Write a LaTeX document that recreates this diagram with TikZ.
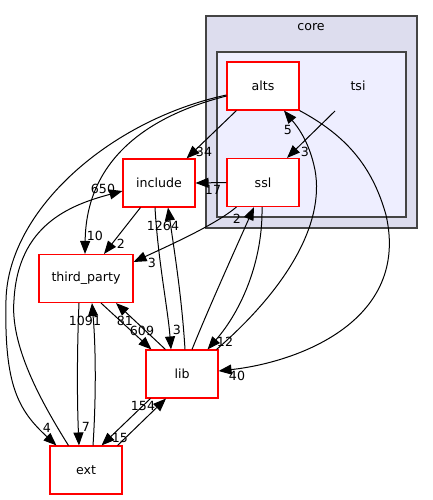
\documentclass[tikz,border=0pt]{standalone}
\usepackage{fontspec}
\setmainfont{DejaVu Sans}
\usetikzlibrary{arrows.meta,calc}
\definecolor{corefill}{HTML}{DDDDEE}
\definecolor{tsifill}{HTML}{EEEEFF}
\definecolor{clusterline}{HTML}{444444}
\definecolor{boxred}{HTML}{FF0000}
\tikzset{
  dirbox/.style={draw=boxred, fill=white, line width=1.1pt, minimum width=72pt, minimum height=48pt, inner sep=0pt, font=\fontsize{12.6}{14}\selectfont},
  plainlabel/.style={inner sep=0pt, font=\fontsize{12.6}{14}\selectfont},
  elabel/.style={inner sep=0pt, font=\fontsize{12.6}{14}\selectfont},
  dep/.style={draw=black, line width=1pt, -{Triangle[length=13pt,width=10pt]}},
  cluster/.style={draw=clusterline, line width=1.4pt}
}
\begin{document}
\begin{tikzpicture}[x=1pt,y=-1pt]
\useasboundingbox (0,0) rectangle (433,500);
% clusters
\path[cluster, fill=corefill] (206,16) rectangle (417,228);
\path[cluster, fill=tsifill] (217,52) rectangle (406,217);
\node[plainlabel] (corelabel) at (311,27) {core};
\node[plainlabel] (tsi) at (358,86) {tsi};
% nodes
\node[dirbox] (alts) at (263,86) {alts};
\node[dirbox] (ssl) at (263,182.5) {ssl};
\node[dirbox] (incl) at (159,183) {include};
\node[dirbox, minimum width=94pt] (third) at (86,278.5) {third\_party};
\node[dirbox] (lib) at (182,374) {lib};
\node[dirbox] (ext) at (86,470) {ext};
% edges
\draw[dep] ($(tsi)+(-23,25)$) -- ($(ssl.north)+(24,0)$);
\node[elabel] (l1) at (305,152) {3};
\draw[dep] ($(alts.south west)+(10,0)$) -- ($(incl.north east)+(-9,0)$);
\node[elabel] (l2) at (204,152) {34};
\draw[dep] (ssl.west) -- (incl.east);
\node[elabel] (l3) at (213,190) {17};
\draw[dep] ($(alts.west)+(0,10)$) .. controls (140,118) and (86,165) .. ($(third.north)+(-1,0)$);
\node[elabel] (l4) at (95,236) {10};
\draw[dep] ($(alts.west)+(0,9)$) .. controls (110,120) and (8,210) .. (6,300) .. controls (4,385) and (18,410) .. ($(ext.north west)+(7,0)$);
\node[elabel] (l5) at (47,428) {4};
\draw[dep] ($(ext.north west)+(19,0)$) .. controls (40,400) and (10,345) .. (14,300) .. controls (18,225) and (70,205) .. ($(incl.west)+(0,8)$);
\node[elabel] (l6) at (103,189) {650};
\draw[dep] (alts.south east) .. controls (345,135) and (372,165) .. (386,215) .. controls (410,320) and (300,362) .. ($(lib.east)+(0,-3)$);
\node[elabel] (l7) at (237,376) {40};
\draw[dep] ($(ssl.south west)+(10,0)$) .. controls (215,225) and (170,245) .. ($(third.east)+(0,-16.5)$);
\node[elabel] (l8) at (152,263) {3};
\draw[dep] ($(ssl.south)+(-1,0)$) .. controls (263,260) and (242,310) .. ($(lib.north east)+(-11,0)$);
\node[elabel] (l9) at (225,342) {12};
\draw[dep] ($(lib.north)+(10,0)$) .. controls (210,305) and (235,250) .. ($(ssl.south)+(-9,0)$);
\node[elabel] (l10) at (237,219) {2};
\draw[dep] ($(lib.north east)+(-2,0)$) .. controls (285,290) and (325,225) .. (315,170) .. controls (309,140) and (296,125) .. ($(alts.south)+(21,0)$);
\node[elabel] (l11) at (288,130) {5};
\draw[dep] ($(incl.south west)+(18,0)$) -- ($(third.north)+(18,0)$);
\node[elabel] (l12) at (121,244) {2};
\draw[dep] ($(incl.south)+(-4,0)$) .. controls (158,260) and (168,310) .. ($(lib.north)+(-11,0)$);
\node[elabel] (l13) at (177,330) {3};
\draw[dep] ($(lib.north)+(3,0)$) .. controls (182,300) and (175,255) .. ($(incl.south)+(9,0)$);
\node[elabel] (l14) at (163,226) {1264};
\draw[dep] ($(third.south)+(15,0)$) -- ($(lib.north west)+(6,0)$);
\node[elabel] (l15) at (142,331) {609};
\draw[dep] ($(lib.north west)+(20,0)$) -- ($(third.south)+(30,0)$);
\node[elabel] (l16) at (125,321) {81};
\draw[dep] ($(third.south)+(-7,0)$) .. controls (77,350) and (77,400) .. ($(ext.north)+(-7,0)$);
\node[elabel] (l17) at (86,427) {7};
\draw[dep] ($(ext.north)+(7,0)$) .. controls (96,400) and (96,350) .. ($(third.south)+(6,0)$);
\node[elabel] (l18) at (85,321) {1091};
\draw[dep] ($(lib.south west)+(5,0)$) -- ($(ext.north east)+(-21,0)$);
\node[elabel] (l19) at (120,438) {15};
\draw[dep] ($(ext.north east)+(-5,0)$) -- ($(lib.south)+(-16,0)$);
\node[elabel] (l20) at (143,406) {154};
\end{tikzpicture}
\end{document}
